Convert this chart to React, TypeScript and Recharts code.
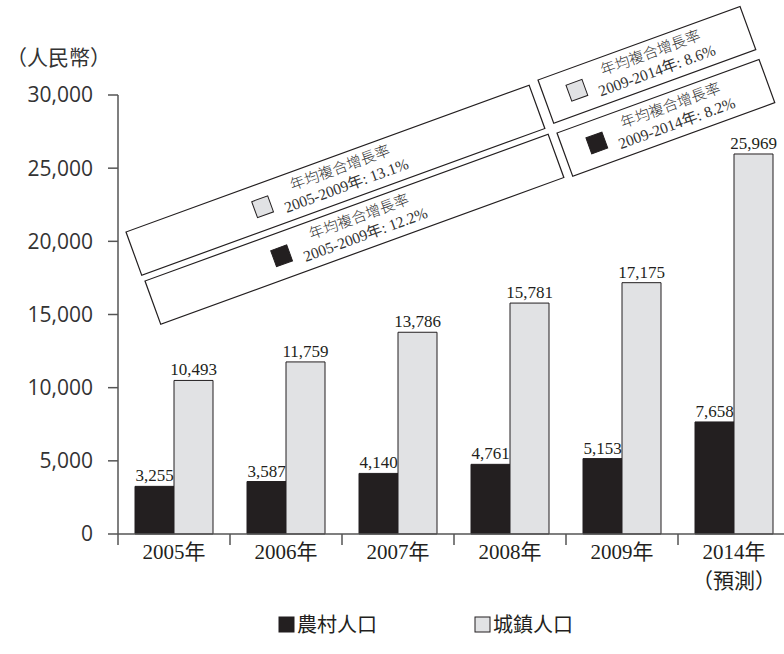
// @ts-nocheck
import { BarChart, Bar, XAxis, YAxis, LabelList } from 'recharts';

const categories = ['2005年', '2006年', '2007年', '2008年', '2009年', '2014年\n（預測）'];
const ruralIncome = [3255, 3587, 4140, 4761, 5153, 7658];
const urbanIncome = [10493, 11759, 13786, 15781, 17175, 25969];
const yTicks = [0, 5000, 10000, 15000, 20000, 25000, 30000];
// category edges (integers) and category centres (halves)
const edgeTicks = [0, 0.5, 1, 1.5, 2, 2.5, 3, 3.5, 4, 4.5, 5, 5.5];
const seriesNames = ['農村人口', '城鎮人口'];
const unitLabel = '（人民幣）';

const cagrTitle = '年均複合增長率';
const cagrPeriods = ['2005-2009年', '2005-2009年', '2009-2014年', '2009-2014年'];
const cagrRates = [13.1, 12.2, 8.6, 8.2];
const cagrSeries = [1, 0, 1, 0];

const DARK = '#231f20';
const LIGHT = '#e1e2e4';
const AXIS = '#555';
const colors = [DARK, LIGHT];
const SERIF = "'Liberation Serif', 'Times New Roman', 'Noto Sans CJK TC', serif";
const CJK = "'Liberation Serif', 'Noto Sans CJK TC', serif";

const data = categories.map((name, i) => ({
  name,
  idx: i,
  rural: ruralIncome[i],
  urban: urbanIncome[i],
}));

const fmt = (v: number) => v.toLocaleString('en-US');

// annotation boxes (placement only)
const boxes = [
  { x: 126, y: 232, w: 429, sx: 137, tx: 223 },
  { x: 145, y: 281, w: 429, sx: 137, tx: 223 },
  { x: 538, y: 80, w: 215, sx: 33, tx: 115 },
  { x: 557, y: 133, w: 215, sx: 34, tx: 116 },
];

const EdgeTick = ({ x, y, payload }: any) => {
  const v = payload.value;
  if (Number.isInteger(v)) {
    return <line x1={x} x2={x} y1={y} y2={y + 11} stroke={AXIS} strokeWidth={1.5} />;
  }
  const lines = String(categories[Math.floor(v)]).split('\n');
  return (
    <text x={x} y={y} textAnchor="middle" fontFamily={CJK} fontSize={21} fill={DARK}>
      {lines.map((l, i) => (
        <tspan key={i} x={x} dy={i === 0 ? 25 : 29}>
          {l}
        </tspan>
      ))}
    </text>
  );
};

const Overlay = () => (
  <svg width={784} height={654} style={{ position: 'absolute', left: 0, top: 0, pointerEvents: 'none' }}>
    <text x={6} y={65} fontFamily={CJK} fontSize={21} fill="#333">
      {unitLabel}
    </text>
    {boxes.map((b, i) => (
      <g key={i} transform={`translate(${b.x},${b.y}) rotate(-20)`}>
        <rect width={b.w} height={46} fill="#fff" stroke={DARK} strokeWidth={1.2} />
        <rect x={b.sx - 8.5} y={14.5} width={17} height={17} fill={colors[cagrSeries[i]]} stroke={DARK} strokeWidth={1} />
        <text x={b.tx} y={18} textAnchor="middle" fontFamily={CJK} fontSize={15} fontWeight={300} fill="#333">
          {cagrTitle}
        </text>
        <text x={b.tx} y={37} textAnchor="middle" fontFamily={SERIF} fontSize={15.5} fill="#333">
          {`${cagrPeriods[i]}: ${cagrRates[i]}%`}
        </text>
      </g>
    ))}
    {seriesNames.map((name, i) => (
      <g key={name} transform={`translate(${279 + i * 196},617)`}>
        <rect width={15} height={15} fill={colors[i]} stroke={DARK} strokeWidth={1} />
        <text x={18} y={15} fontFamily={CJK} fontSize={20} fill={DARK}>
          {name}
        </text>
      </g>
    ))}
  </svg>
);

export default function App() {
  return (
    <div style={{ position: 'absolute', left: 0, top: 0, width: 784, height: 654, overflow: 'hidden', background: '#fff' }}>
      <BarChart
        width={800}
        height={654}
        data={data}
        margin={{ top: 95, right: 10, left: 0, bottom: 60 }}
        barGap={0}
      >
        <XAxis dataKey="name" hide height={0} />
        <XAxis
          xAxisId="edge"
          type="number"
          dataKey="idx"
          domain={[0, 6]}
          ticks={edgeTicks}
          interval={0}
          tick={EdgeTick}
          height={60}
          tickSize={0}
          tickMargin={0}
          tickLine={false}
          axisLine={{ stroke: AXIS, strokeWidth: 1.5 }}
        />
        <YAxis
          width={118}
          domain={[0, 30000]}
          ticks={yTicks}
          tickFormatter={fmt}
          tickSize={10}
          tickMargin={15}
          axisLine={{ stroke: AXIS, strokeWidth: 1.5 }}
          tickLine={{ stroke: AXIS, strokeWidth: 1.5 }}
          tick={{ fill: '#333', fontSize: 21, fontFamily: "'Open Sans', sans-serif" }}
        />
        <Bar dataKey="rural" fill={DARK} stroke={DARK} strokeWidth={1} barSize={39} isAnimationActive={false}>
          <LabelList dataKey="rural" position="top" offset={5} formatter={fmt} fill={DARK} fontSize={17} fontFamily={SERIF} />
        </Bar>
        <Bar dataKey="urban" fill={LIGHT} stroke={DARK} strokeWidth={1} barSize={39} isAnimationActive={false}>
          <LabelList dataKey="urban" position="top" offset={5} formatter={fmt} fill={DARK} fontSize={17} fontFamily={SERIF} />
        </Bar>
      </BarChart>
      <Overlay />
    </div>
  );
}
